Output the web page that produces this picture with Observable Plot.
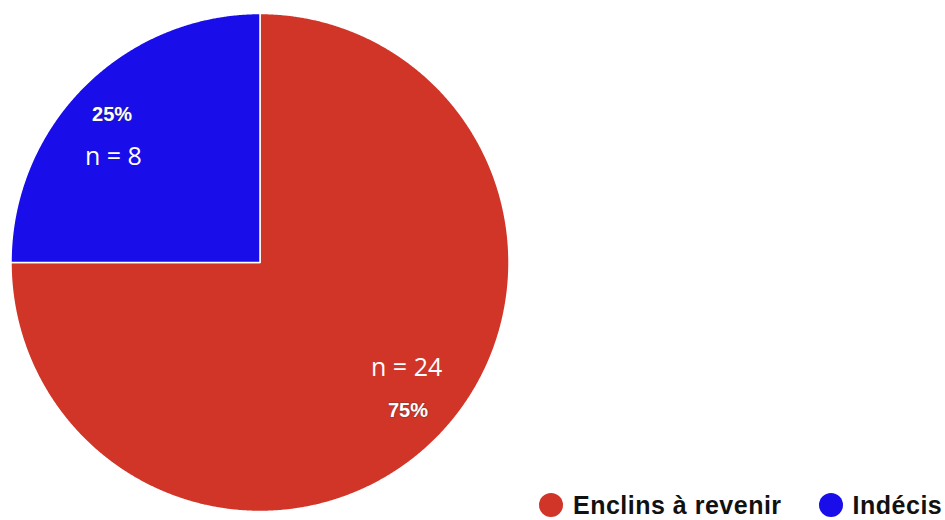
<!DOCTYPE html>
<html><head><meta charset="utf-8">
<script src="https://cdn.jsdelivr.net/npm/d3@7"></script>
<script src="https://cdn.jsdelivr.net/npm/@observablehq/plot@0.6"></script>
<style>
body{margin:0;background:#fff;}
#wrap{position:relative;width:945px;height:520px;}
#legend{position:absolute;left:539px;top:492px;display:flex;align-items:center;font-family:"Liberation Sans",Arial,sans-serif;font-weight:bold;font-size:25px;line-height:26px;letter-spacing:0.5px;color:#111;white-space:nowrap;}
#legend .item{display:flex;align-items:center;}
#legend .sw{width:24px;height:24px;border-radius:50%;margin-right:10px;}
#legend .item + .item{margin-left:37px;}
</style>
</head><body>
<div id="wrap"></div>
<script>
const categories = ["Enclins à revenir", "Indécis"];
const counts = [24, 8];
const percentLabels = ["75%", "25%"];
const countLabels = ["n = 24", "n = 8"];
const colors = ["#D13528", "#190DE9"];

const arcs = d3.pie().sort(null)(counts).map((a, i) => ({...a, cat: categories[i], pct: percentLabels[i], n: countLabels[i]}));

// polygon outline of each slice (geometry of the arc)
const pts = [];
for (const a of arcs) {
  pts.push({cat: a.cat, x: 0, y: 0});
  const steps = Math.ceil((a.endAngle - a.startAngle) / (Math.PI / 720));
  for (let k = 0; k <= steps; k++) {
    const t = a.startAngle + (a.endAngle - a.startAngle) * k / steps;
    pts.push({cat: a.cat, x: Math.sin(t), y: Math.cos(t)});
  }
  pts.push({cat: a.cat, x: 0, y: 0});
}
const mid = a => (a.startAngle + a.endAngle) / 2;
const LR = 0.84;
const px = a => LR * Math.sin(mid(a));
const py = a => LR * Math.cos(mid(a));

const chart = Plot.plot({
  width: 945,
  height: 520,
  marginLeft: 10.5,
  marginRight: 436.5,
  marginTop: 13,
  marginBottom: 9,
  x: {domain: [-1, 1], axis: null},
  y: {domain: [-1, 1], axis: null},
  color: {domain: categories, range: colors},
  style: {background: "#fff"},
  marks: [
    Plot.line(pts, {x: "x", y: "y", z: "cat", fill: "cat", stroke: "#fff", strokeWidth: 1.5, curve: "linear"}),
    Plot.text(arcs, {x: px, y: py, text: "pct", fill: "#fff", fontWeight: "bold", fontSize: 20,
      fontFamily: "Liberation Sans, Arial, sans-serif", stroke: "#333", strokeOpacity: 0.25, strokeWidth: 2}),
    Plot.text(arcs, {x: a => px(a) - 0.005 * Math.sign(px(a)), y: a => py(a) - Math.sign(py(a)) * 0.169, text: "n", fill: "#fff",
      fontSize: 25, fontFamily: "Open Sans, sans-serif"})
  ]
});
const wrap = document.getElementById("wrap");
wrap.appendChild(chart);

const legend = document.createElement("div");
legend.id = "legend";
categories.forEach((c, i) => {
  const it = document.createElement("div");
  it.className = "item";
  const sw = document.createElement("span");
  sw.className = "sw";
  sw.style.background = colors[i];
  const t = document.createElement("span");
  t.textContent = c;
  it.appendChild(sw); it.appendChild(t);
  legend.appendChild(it);
});
wrap.appendChild(legend);
</script>
</body></html>
